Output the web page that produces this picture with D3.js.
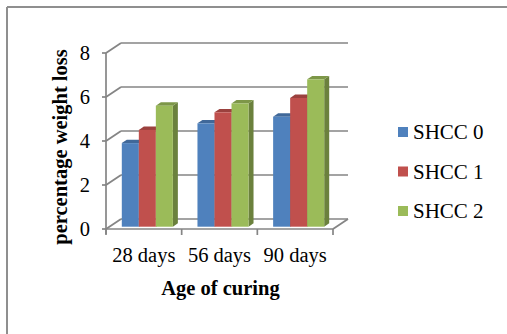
<!DOCTYPE html>
<html>
<head>
<meta charset="utf-8">
<script src="https://cdn.jsdelivr.net/npm/d3@7"></script>
<style>
  html, body { margin: 0; padding: 0; background: #fff; }
  svg { display: block; }
</style>
</head>
<body>
<svg id="chart" width="507" height="334"></svg>
<script>
// Weight loss by curing age for three SHCC mixes
const categories = ["28 days", "56 days", "90 days"];
const seriesNames = ["SHCC 0", "SHCC 1", "SHCC 2"];
const shcc0 = [3.8, 4.7, 5.0];
const shcc1 = [4.4, 5.2, 5.85];
const shcc2 = [5.5, 5.6, 6.7];
const yTicks = [0, 2, 4, 6, 8];
const colors = ["#4F81BD", "#C0504D", "#9BBB59"];

const seriesValues = [shcc0, shcc1, shcc2];
const serif = "'Liberation Serif', 'Times New Roman', Times, serif";

const svg = d3.select("#chart");

// Frame
svg.append("line").attr("x1", 7).attr("y1", 7).attr("x2", 507).attr("y2", 7)
  .attr("stroke", "#8f8f8f").attr("stroke-width", 2);
svg.append("line").attr("x1", 7).attr("y1", 7).attr("x2", 7).attr("y2", 334)
  .attr("stroke", "#8f8f8f").attr("stroke-width", 2);

// Front plane of the 3D box
const left = 106, right = 333;
const x = d3.scaleBand().domain(categories).range([left, right]);
const x1 = d3.scaleBand().domain(seriesNames).range([12.3, x.bandwidth() - 12.3]);
const y = d3.scaleLinear().domain([0, 8]).range([229, 53]);

// Depth of the box and of the bars
const depth = { dx: 15, dy: -10 };
const barFront = { dx: 3.5, dy: -2.3 };
const barDepth = { dx: 5, dy: -3.4 };

const gridColor = "#858585";
const gw = 1.7;

// Side wall diagonals and back wall gridlines
const grid = svg.append("g");
yTicks.forEach(t => {
  const yy = y(t);
  grid.append("line")
    .attr("x1", left).attr("y1", yy)
    .attr("x2", left + depth.dx).attr("y2", yy + depth.dy)
    .attr("stroke", gridColor).attr("stroke-width", gw);
  grid.append("line")
    .attr("x1", left + depth.dx).attr("y1", yy + depth.dy)
    .attr("x2", right + depth.dx).attr("y2", yy + depth.dy)
    .attr("stroke", gridColor).attr("stroke-width", gw);
});
// Floor edges
grid.append("line")
  .attr("x1", right).attr("y1", y(0))
  .attr("x2", right + depth.dx).attr("y2", y(0) + depth.dy)
  .attr("stroke", gridColor).attr("stroke-width", gw);
grid.append("line")
  .attr("x1", left).attr("y1", y(0))
  .attr("x2", right).attr("y2", y(0))
  .attr("stroke", gridColor).attr("stroke-width", gw);

// Bars
const bars = [];
categories.forEach((c, ci) => {
  seriesNames.forEach((s, si) => {
    bars.push({ c, s, si, v: seriesValues[si][ci] });
  });
});

const barG = svg.append("g");
bars.forEach(b => {
  const base = d3.color(colors[b.si]);
  const x0 = x(b.c) + x1(b.s) + barFront.dx;
  const w = x1.bandwidth();
  const yb = y(0) + barFront.dy;
  const yt = y(b.v) + barFront.dy;
  const dx = barDepth.dx, dy = barDepth.dy;
  // right side face
  barG.append("polygon")
    .attr("points", [[x0 + w, yt], [x0 + w + dx, yt + dy], [x0 + w + dx, yb + dy], [x0 + w, yb]].join(" "))
    .attr("fill", base.darker(1.05));
  // top face
  barG.append("polygon")
    .attr("points", [[x0, yt], [x0 + dx, yt + dy], [x0 + w + dx, yt + dy], [x0 + w, yt]].join(" "))
    .attr("fill", base.darker(0.6));
  // front face
  barG.append("rect")
    .attr("x", x0).attr("y", yt)
    .attr("width", w).attr("height", yb - yt)
    .attr("fill", base.formatHex());
});

// Value axis line and ticks
const axis = svg.append("g");
axis.append("line")
  .attr("x1", left).attr("y1", y(8)).attr("x2", left).attr("y2", y(0) + 5)
  .attr("stroke", gridColor).attr("stroke-width", gw);
yTicks.forEach(t => {
  axis.append("line")
    .attr("x1", left - 4).attr("y1", y(t)).attr("x2", left).attr("y2", y(t))
    .attr("stroke", gridColor).attr("stroke-width", gw);
  axis.append("text")
    .attr("x", 90).attr("y", y(t) + 7)
    .attr("text-anchor", "end")
    .attr("font-family", serif)
    .attr("font-size", 20.5)
    .text(t);
});

// Category ticks and labels
const catEdges = categories.map(c => x(c)).concat([right]);
catEdges.forEach(e => {
  axis.append("line")
    .attr("x1", e).attr("y1", y(0)).attr("x2", e).attr("y2", y(0) + 6)
    .attr("stroke", gridColor).attr("stroke-width", gw);
});
categories.forEach(c => {
  axis.append("text")
    .attr("x", x(c) + x.bandwidth() / 2).attr("y", 262)
    .attr("text-anchor", "middle")
    .attr("font-family", serif)
    .attr("font-size", 20.5)
    .text(c);
});

// Axis titles
svg.append("text")
  .attr("transform", "translate(67,147) rotate(-90)")
  .attr("text-anchor", "middle")
  .attr("font-family", serif)
  .attr("font-size", 20.5)
  .attr("font-weight", "bold")
  .text("percentage weight loss");
svg.append("text")
  .attr("x", 220.5).attr("y", 295)
  .attr("text-anchor", "middle")
  .attr("font-family", serif)
  .attr("font-size", 20.5)
  .attr("font-weight", "bold")
  .text("Age of curing");

// Legend
const legend = svg.append("g");
seriesNames.forEach((s, i) => {
  const ly = 139 + i * 39.5;
  legend.append("rect")
    .attr("x", 398).attr("y", ly - 12).attr("width", 10).attr("height", 10)
    .attr("fill", colors[i]);
  legend.append("text")
    .attr("x", 413).attr("y", ly)
    .attr("font-family", serif)
    .attr("font-size", 21)
    .text(s);
});
</script>
</body>
</html>
